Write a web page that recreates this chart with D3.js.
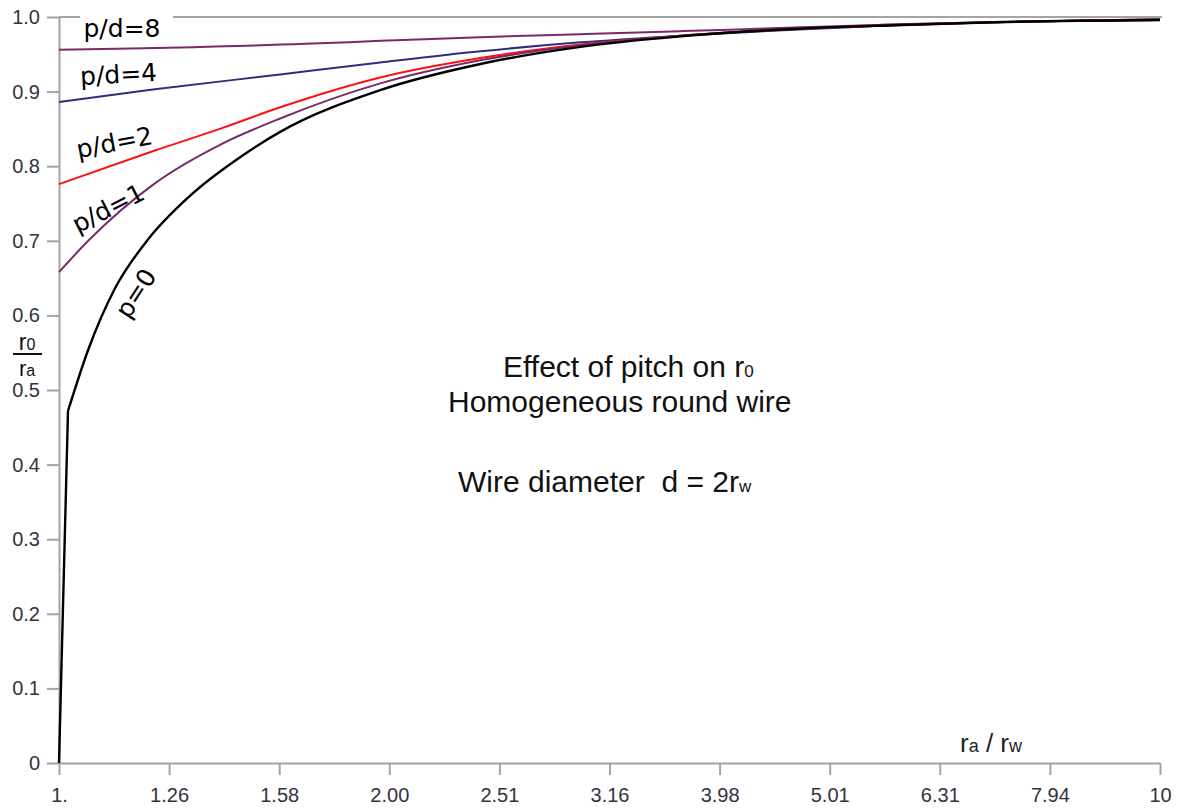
<!DOCTYPE html>
<html>
<head>
<meta charset="utf-8">
<script src="https://cdn.jsdelivr.net/npm/d3@7"></script>
<style>
  body { margin: 0; background: #fff; }
  svg { display: block; }
  .tick text { font-family: "Liberation Sans", Arial, sans-serif; font-size: 20px; fill: #333340; }
  .tick line, .domain { stroke: #a4a4a4; stroke-width: 2; }
  .lbl { font-family: "DejaVu Sans", Verdana, sans-serif; font-size: 25px; fill: #000; }
  .note { font-family: "Liberation Sans", Arial, sans-serif; font-size: 30px; fill: #111; white-space: pre; }
</style>
</head>
<body>
<svg width="1178" height="809"></svg>
<script>
// tick values on the log axis (1 .. 10 in tenths of a decade)
const xTicks = [1, 1.2589, 1.5849, 1.9953, 2.5119, 3.1623, 3.9811, 5.0119, 6.3096, 7.9433, 10]
const xTickLabels = ['1.', '1.26', '1.58', '2.00', '2.51', '3.16', '3.98', '5.01', '6.31', '7.94', '10']
const yTicks = [0, 0.1, 0.2, 0.3, 0.4, 0.5, 0.6, 0.7, 0.8, 0.9, 1.0]
const yTickLabels = ['0', '0.1', '0.2', '0.3', '0.4', '0.5', '0.6', '0.7', '0.8', '0.9', '1.0']

// curves (x = ra/rw, y = r0/ra)
const xP0 = [1, 1.019, 1.063, 1.124, 1.205, 1.31, 1.467, 1.588, 1.958, 2.414, 2.976, 3.668, 4.649, 5.731, 7.066, 10]
const yP0 = [0, 0.472, 0.554, 0.636, 0.702, 0.758, 0.814, 0.846, 0.902, 0.937, 0.960, 0.974, 0.984, 0.989, 0.993, 0.996]

const xPd1 = [1, 1.063, 1.222, 1.406, 1.588, 1.958, 2.414, 2.976, 3.668, 4.649, 5.731, 7.066, 10]
const yPd1 = [0.658, 0.700, 0.777, 0.830, 0.864, 0.911, 0.942, 0.962, 0.975, 0.984, 0.990, 0.993, 0.997]

const xPd2 = [1, 1.222, 1.406, 1.588, 1.958, 2.414, 2.976, 3.668, 4.649, 5.731, 7.066, 10]
const yPd2 = [0.776, 0.821, 0.851, 0.879, 0.919, 0.945, 0.963, 0.975, 0.984, 0.989, 0.993, 0.996]

const xPd4 = [1, 1.222, 1.588, 1.958, 2.414, 2.976, 3.668, 4.649, 5.731, 7.066, 10]
const yPd4 = [0.886, 0.903, 0.923, 0.939, 0.954, 0.966, 0.975, 0.983, 0.989, 0.993, 0.996]

const xPd8 = [1, 1.673, 1.958, 2.414, 2.976, 3.668, 4.07, 4.649, 5.731, 7.066, 8.3, 10]
const yPd8 = [0.956, 0.964, 0.968, 0.973, 0.977, 0.981, 0.983, 0.986, 0.990, 0.993, 0.995, 0.997]

// straight: how many leading segments are drawn straight
const series = [
  { name: 'p/d=8', xs: xPd8, ys: yPd8, color: '#7a2a6a', straight: 0 },
  { name: 'p/d=4', xs: xPd4, ys: yPd4, color: '#2e2e80', straight: 0 },
  { name: 'p/d=2', xs: xPd2, ys: yPd2, color: '#ff1010', straight: 0 },
  { name: 'p/d=1', xs: xPd1, ys: yPd1, color: '#7a2a6a', straight: 0 },
  { name: 'p=0', xs: xP0, ys: yP0, color: '#000000', straight: 1 }
]

const svg = d3.select('svg')

const x = d3.scaleLog().domain([1, 10]).range([59, 1160])
const y = d3.scaleLinear().domain([0, 1]).range([763, 17])

// top line at 1.0
svg.append('line')
    .attr('x1', x(1)).attr('x2', x(10) + 2)
    .attr('y1', y(1)).attr('y2', y(1))
    .attr('stroke', '#a4a4a4')
    .attr('stroke-width', 2)

// axes
svg.append('g')
    .attr('transform', `translate(0,${y(0)})`)
    .call(d3.axisBottom(x).tickValues(xTicks).tickFormat((d, i) => xTickLabels[i])
        .tickSize(12).tickSizeOuter(0).tickPadding(13))

svg.append('g')
    .attr('transform', `translate(${x(1)},0)`)
    .call(d3.axisLeft(y).tickValues(yTicks).tickFormat((d, i) => yTickLabels[i])
        .tickSize(12).tickSizeOuter(0).tickPadding(7))

svg.selectAll('.domain').attr('fill', 'none')

const smooth = d3.line()
    .x(d => x(d[0]))
    .y(d => y(d[1]))
    .curve(d3.curveMonotoneX)

const straight = d3.line()
    .x(d => x(d[0]))
    .y(d => y(d[1]))

function pathOf(s) {
  const pts = s.xs.map((v, i) => [v, s.ys[i]])
  const head = s.straight ? straight(pts.slice(0, s.straight + 1)) : ''
  return head + smooth(pts.slice(s.straight))
}

svg.append('g')
  .selectAll('path')
  .data(series)
  .enter()
    .append('path')
      .attr('d', pathOf)
      .attr('fill', 'none')
      .attr('stroke', s => s.color)
      .attr('stroke-width', s => s.name == 'p=0' ? 2.4 : 2)
      .attr('stroke-linejoin', 'round')

// white patch behind the p/d=8 label
svg.append('rect')
    .attr('x', 80).attr('y', 8)
    .attr('width', 93).attr('height', 14)
    .attr('fill', '#fff')

// curve labels (baseline centre, rotation)
const labels = [
  { t: 'p/d=8', x: 122, y: 37, r: 0 },
  { t: 'p/d=4', x: 119, y: 83, r: -3 },
  { t: 'p/d=2', x: 116, y: 151, r: -11 },
  { t: 'p/d=1', x: 112, y: 216, r: -27 },
  { t: 'p=0', x: 143, y: 298, r: -57 }
]

svg.selectAll('text.lbl')
  .data(labels)
  .enter()
    .append('text')
      .attr('class', 'lbl')
      .attr('text-anchor', 'middle')
      .attr('transform', d => `translate(${d.x},${d.y}) rotate(${d.r})`)
      .text(d => d.t)

// text with small subscripts
function subText(g, xx, yy, parts, size, sub) {
  const t = g.append('text').attr('class', 'note').attr('x', xx).attr('y', yy)
      .style('font-size', size + 'px')
  parts.forEach(p => {
    t.append('tspan').text(p[0]).style('font-size', p[1] ? sub + 'px' : null)
  })
  return t
}

subText(svg, 503, 377, [['Effect of pitch on r'], ['0', 1]], 30, 17)
subText(svg, 448, 412, [['Homogeneous round wire']], 30, 17)
subText(svg, 458, 492, [['Wire diameter  d = 2r'], ['w', 1]], 30, 17)

// axis titles
subText(svg, 960, 752, [['r'], ['a', 1], [' / r'], ['w', 1]], 26, 18)
  .style('fill', '#222')

subText(svg, 27, 350, [['r'], ['0', 1]], 23, 16).attr('text-anchor', 'middle')
subText(svg, 27, 376, [['r'], ['a', 1]], 22, 16).attr('text-anchor', 'middle')
svg.append('line')
    .attr('x1', 13).attr('x2', 42)
    .attr('y1', 354).attr('y2', 354)
    .attr('stroke', '#111')
    .attr('stroke-width', 2)
</script>
</body>
</html>
